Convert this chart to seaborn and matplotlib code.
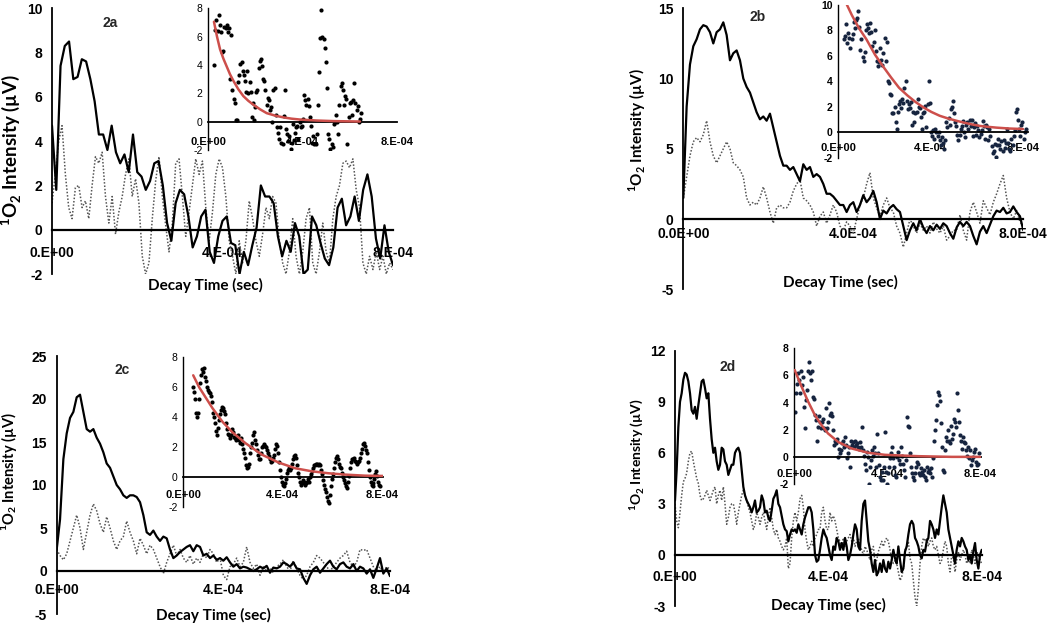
import numpy as np
import matplotlib
matplotlib.use("Agg")
import matplotlib.pyplot as plt
import seaborn as sns

sns.set_theme(style="white")
plt.rcParams["font.family"] = ["Liberation Sans", "DejaVu Sans"]
plt.rcParams["mathtext.fontset"] = "custom"
plt.rcParams["mathtext.bf"] = "Lato:bold"
plt.rcParams["mathtext.rm"] = "Lato"
plt.rcParams["axes.unicode_minus"] = False

# ---------------- data (time in microseconds, intensity in µV) ----------------
a_solid = [4.7, 1.8, 7.4, 8.3, 8.5, 6.8, 6.9, 7.7, 7.6, 6.8,
           5.8, 4.3, 4.3, 3.6, 4.7, 3.5, 3.0, 3.4, 2.6, 4.3,
           2.6, 2.4, 1.8, 2.2, 3.0, 3.1, 2.0, 0.3, -0.5, 1.2,
           1.8, 1.6, 0.6, -0.8, -0.3, 0.6, 0.9, -1.0, -1.5, -0.3,
           0.4, 0.6, -0.6, -0.7, -2.0, -1.0, -1.6, -0.7, 0.1, 2.0,
           1.5, 1.5, 1.2, -0.3, -1.2, -0.5, -1.0, 0.3, -0.3, -2.0,
           -1.8, 0.6, 0.2, -0.6, -1.3, -1.6, -0.8, 1.0, 1.4, 0.2,
           0.6, 1.5, 0.4, 1.8, 2.5, 1.5, -0.4, -1.3, 0.2, -1.0, -1.6]
a_dotted = [1.2, 2.5, 4.0, 4.7, 2.5, 1.0, 0.5, 1.9, 2.0, 1.0, 1.3, 0.5, 2.0, 3.3, 3.0,
            3.5, 1.5, 0.3, 1.5, -0.2, 0.8, 1.5, 2.5, 3.2, 1.5, 2.3, 1.2, -1.2, -2.0, -1.5,
            0.5, 2.2, 3.3, 1.5, 0.2, -1.0, 0.3, 3.0, 3.2, 1.5, -0.3, 0.8, 2.0, 3.2, 2.5,
            3.1, 1.0, -0.5, 0.8, 2.5, 3.2, 2.8, 1.5, -0.5, -1.2, -2.0, -0.5, -1.5, -0.5, 1.3,
            0.5, -0.5, -1.2, -0.2, 1.0, 0.5, 1.5, 1.2, -0.5, -1.5, -2.0, -1.0, 0.5, -1.2, -2.0,
            -1.0, 0.5, 1.0, -1.5, -2.0, -1.0, 0.3, -1.0, -1.5, 0.5, 1.5, 2.0, 3.0, 3.1, 2.8,
            3.2, 1.8, 1.0, -1.5, -2.0, -1.2, -1.8, -1.0, -1.8, -1.2, -2.0, -1.5, -1.8]
a_inset = [4.0, 6.5, 7.2, 6.4, 7.5, 6.8, 6.3, 4.9, 5.0, 6.7, 6.6, 6.8, 6.3, 6.6, 3.0, 6.1,
           2.2, 1.6, 1.3, 0.15, 0.1, 2.8, 3.3, 4.1, 4.2, 3.6, 3.3, 2.9, 2.1, 3.6, 2.0, 2.8,
           2.1, 0.3, 1.3, 0.1, 1.0, 2.1, 2.2, 3.8, 4.3, 4.4, 3.9, 3.0, 2.9, 2.2, 1.2, 1.7,
           1.5, 0.8, 1.0, 0.0, 2.2, 2.4, 0.5, -0.4, -0.8, -1.2, -0.4, -1.5, -1.6, 0.4, 2.2,
           -0.5, -0.9, -1.4, -1.0, -1.9, -1.5, -0.2, -1.3, -0.8, -0.4, -0.3, -1.2, 0.0, -0.4,
           -0.3, 0.2, 1.9, 1.5, 1.2, 1.6, 1.1, 0.3, -0.3, -1.5, -1.0, -1.6, -1.6, -0.9, 1.2,
           3.5, 5.9, 7.9, 6.0, 5.8, 5.2, 4.2, 2.4, -0.9, -1.2, -1.9, -1.6, -1.8, -0.2, 0.0,
           0.5, 0.0, -0.9, 1.2, 2.5, 2.7, 2.2, 1.2, 1.8, 1.6, -1.6, 0.3, 1.3, 1.4, 0.5, 1.5,
           2.7, 1.3, 0.8, 1.1, 0.0, 0.2, 0.6]
a_inset_t = [25, 649]
a_fit_t = [24, 37, 50, 64, 78, 92, 106, 127, 149, 170, 191, 220, 248, 283, 319, 354, 389, 460, 531, 644]
a_fit_v = [7.05, 6.0, 5.1, 4.45, 3.9, 3.35, 2.9, 2.3, 1.8, 1.47, 1.2, 0.87, 0.6, 0.43, 0.3, 0.21, 0.15, 0.08, 0.04, 0.01]

b_solid = [1.5, 8.0, 11.0, 12.3, 12.8, 13.5, 13.8, 13.7, 13.3, 12.5,
           13.3, 13.5, 14.0, 13.1, 11.3, 11.8, 12.0, 11.3, 10.0, 9.4,
           9.0, 8.3, 7.6, 7.1, 7.3, 7.0, 7.5, 6.5, 5.5, 4.5,
           3.8, 3.8, 3.5, 3.7, 3.2, 2.7, 3.9, 3.5, 3.7, 3.0,
           3.2, 3.0, 2.5, 1.8, 1.8, 1.6, 1.3, 1.0, 1.0, 0.5,
           1.0, 1.2, 0.5, 1.0, 1.7, 1.2, 1.5, 2.0, 1.2, 0.0,
           0.6, 0.4, 0.8, 1.0, 0.7, 0.5, -0.5, -1.5, -0.8, -0.3,
           -0.8, 0.0, -0.6, -1.0, -0.5, -0.8, -0.4, -0.7, -0.3, -0.5,
           -1.0, -1.4, -0.6, -0.2, -0.5, -0.2, -0.5, -1.2, -1.8, -0.9,
           -0.5, -1.0, -0.4, 0.2, 0.6, 0.5, 0.8, 0.4, 0.5, 0.9,
           0.5, 0.2, -0.8]
b_dotted = [1.5, 3.0, 4.5, 5.5, 5.8, 5.5, 6.0, 7.0, 5.5, 4.5,
            4.0, 4.5, 5.0, 5.5, 5.0, 4.0, 3.8, 3.5, 3.0, 1.5,
            1.0, 1.2, 1.0, 1.5, 2.3, 1.5, 0.5, -0.3, 0.8, 1.0,
            0.8, 0.8, 1.2, 2.0, 2.5, 2.8, 1.5, 1.3, 1.0, 0.5,
            -0.5, 0.2, 0.5, -0.3, 0.3, 1.0, 0.5, -0.5, -0.8, -0.2,
            -0.5, -1.0, 0.0, 1.0, 1.5, 2.5, 3.3, 1.5, 0.8, 0.2,
            1.0, 1.5, 0.8, 0.5, -0.5, -1.0, -2.0, -1.0, 0.0, -0.5,
            -1.0, -0.3, -0.8, -0.5, -1.0, -0.2, -0.7, -1.0, -0.5, -1.5,
            -1.2, -0.8, -0.8, 0.3, -0.8, -1.5, 0.5, 1.2, 0.5, -0.3,
            1.3, 0.8, 0.3, 1.2, 1.8, 2.5, 3.1, 1.5, 0.5, 0.0,
            0.6, -0.2, -0.5]
b_inset = [7.3, 7.6, 8.5, 7.0, 7.8, 7.4, 6.6, 7.3, 7.7, 8.7, 8.2, 8.8, 9.0, 9.5, 8.3, 6.5,
           7.3, 5.9, 5.6, 6.3, 8.0, 8.5, 8.2, 7.8, 8.6, 7.9, 6.8, 7.1, 8.0, 6.4, 5.6, 5.2,
           5.5, 6.6, 5.7, 5.3, 6.2, 7.4, 5.6, 7.1, 4.0, 3.9, 3.0, 2.9, 1.5, 1.5, 2.0, 0.8,
           0.3, 1.6, 2.2, 2.5, 1.9, 2.6, 2.3, 3.5, 4.0, 2.5, 1.8, 2.2, 1.9, 2.4, 0.6, 1.6,
           0.8, 1.5, 1.6, 2.6, 2.0, 1.9, 1.2, 0.3, 1.5, 1.6, 2.1, 0.4, 2.2, 4.0, 2.3, 0.0,
           -0.3, 0.2, -0.5, 0.3, 0.0, -0.3, 0.0, -0.6, -1.0, -0.4, -0.8, -1.3, -0.6, 0.8,
           0.4, 1.1, 0.6, 1.8, 2.0, 2.5, 1.5, 0.8, 0.5, -0.2, -0.6, -0.2, 0.3, 0.5, 0.9,
           0.0, -0.4, 0.6, 0.8, 0.3, 1.0, 0.5, 1.0, -0.3, 0.4, 0.7, -0.2, 0.5, 0.2, -0.4,
           -0.1, 0.2, 0.9, 0.5, -0.5, 0.6, 0.4, -0.6, 0.3, -0.3, -1.1, -1.6, -1.5, -0.9,
           -1.9, -1.0, -0.5, -1.0, -1.3, -0.7, -1.5, -0.6, -1.2, -0.8, 0.3, -0.8, -1.3,
           -1.5, -0.5, -1.0, -0.3, 0.2, 1.6, 1.8, 1.0, 0.3, -0.3, 0.6, 0.8, -0.5, 0.0, 0.3]
b_inset_t = [25, 812]
b_fit_t = [30, 39, 60, 90, 123, 160, 194, 230, 264, 300, 334, 370, 404, 440, 474, 510, 545, 580, 615, 650, 685, 740, 800]
b_fit_v = [10.4, 10.0, 9.2, 8.2, 7.3, 6.1, 5.2, 4.3, 3.5, 2.9, 2.4, 1.95, 1.6, 1.3, 1.1, 0.92, 0.76, 0.62, 0.5, 0.43, 0.37, 0.3, 0.26]

c_solid = [2.5, 6.0, 13.0, 16.0, 17.8, 18.5, 20.2, 20.5, 18.5, 16.5,
           16.2, 16.5, 15.5, 14.8, 13.8, 12.5, 12.0, 11.0, 10.0, 9.5,
           8.8, 8.5, 8.8, 8.8, 8.6, 8.0, 6.5, 4.5, 4.2, 4.7,
           4.0, 3.5, 4.0, 3.8, 2.5, 1.5, 1.8, 2.2, 2.5, 2.8,
           3.0, 2.3, 3.0, 2.8, 1.8, 2.0, 1.5, 1.8, 1.3, 1.5,
           1.2, 1.6, 1.0, 0.5, 0.8, 0.3, 0.5, 0.4, 0.2, 0.0,
           0.2, 0.5, 0.3, 0.6, -0.2, 0.4, 0.3, 0.5, 1.0, 0.8,
           0.5, 1.0, 0.3, 0.2, -0.8, -1.5, -0.5, 0.2, 0.5, -0.2,
           0.3, 0.8, 1.2, 0.5, 0.2, 0.8, 1.0, 0.5, 0.3, 0.8,
           0.0, 0.5, 0.3, -0.3, 0.2, -0.8, 0.3, 1.5, -0.3, 0.3, -0.6]
c_dotted = [2.5, 1.8, 1.3, 2.0, 3.5, 5.0, 6.5, 5.0, 2.5, 4.5,
            6.5, 7.8, 7.0, 5.5, 4.5, 6.3, 5.0, 3.5, 2.5, 3.5,
            4.0, 5.8, 4.5, 3.5, 2.0, 3.8, 3.0, 2.0, 3.0, 2.5,
            1.5, 0.5, -0.3, 1.0, 2.0, 3.0, 1.8, 2.5, 1.5, 1.0,
            1.8, 0.8, 1.5, 1.0, 2.0, 1.5, 2.5, 2.0, 1.0, 1.5,
            -0.5, -1.0, 0.5, 0.8, 1.5, 0.5, 1.0, 2.8, 1.0, 0.3,
            0.8, -0.5, 0.5, 0.0, 0.3, -0.2, 0.5, 0.8, 1.3, 0.5,
            0.0, 1.2, 0.3, -0.5, -1.0, -0.5, 0.5, 1.0, 1.8, 1.5,
            1.0, 0.5, 0.0, 0.5, 1.0, 1.5, 1.8, 2.3, 1.0, 0.5,
            1.0, 2.5, 2.4, 2.5, 1.5, 0.5, 0.0, 0.5, -0.2, 0.5, 0.2]
c_inset = [6.0, 5.7, 5.2, 4.3, 4.0, 4.3, 5.2, 6.3, 6.8, 7.2, 7.0, 7.3, 6.7, 6.4, 6.0, 5.8,
           5.7, 5.6, 5.4, 5.0, 4.3, 4.0, 3.6, 3.1, 2.8, 3.3, 3.8, 4.2, 4.5, 4.7, 4.6, 4.4,
           4.2, 3.6, 3.2, 2.9, 2.8, 2.6, 2.8, 3.2, 3.0, 2.7, 2.6, 2.5, 2.6, 2.8, 2.5, 2.3,
           2.6, 2.2, 1.9, 1.6, 1.3, 0.8, 0.6, 0.7, 0.9, 1.6, 2.0, 2.3, 2.8, 3.0, 2.5, 2.2,
           1.8, 1.5, 1.2, 1.2, 1.6, 2.0, 2.1, 2.2, 2.1, 2.0, 1.8, 1.6, 1.4, 1.2, 1.0, 1.1,
           1.3, 1.5, 1.9, 2.2, 2.1, 1.6, 1.0, 0.5, 0.0, -0.3, -0.5, -0.6, -0.4, -0.1, 0.3,
           0.5, 0.6, 0.5, 0.6, 0.9, 1.2, 1.4, 1.5, 1.3, 0.8, 0.3, 0.0, -0.3, -0.5, -0.4,
           -0.2, -0.3, -0.5, -0.4, -0.3, -0.1, -0.3, 0.0, 0.2, 0.4, 0.6, 0.8, 0.8, 0.9, 0.9,
           0.8, 0.9, 0.8, 0.5, 0.2, -0.2, -0.5, -0.8, -1.0, -1.3, -1.6, -1.7, -1.2, -0.6,
           -0.1, 0.2, 0.6, 1.0, 1.3, 1.4, 1.2, 0.9, 0.7, 0.6, 0.3, 0.0, -0.2, -0.4, -0.6,
           -0.7, -0.3, 0.1, 0.6, 1.0, 1.2, 1.2, 1.3, 1.1, 1.0, 0.9, 1.0, 1.1, 1.3, 1.6, 1.9,
           2.2, 2.3, 2.1, 1.8, 1.6, 1.0, 0.5, 0.0, -0.3, -0.5, -0.6, -0.4, -0.1, 0.2, 0.4,
           0.1, -0.3, -0.5, -0.6]
c_inset_t = [40, 795]
c_fit_t = [40, 64, 91, 118, 158, 198, 251, 318, 385, 452, 518, 585, 652, 732, 806]
c_fit_v = [6.8, 6.0, 5.3, 4.6, 3.7, 3.0, 2.27, 1.5, 0.98, 0.6, 0.4, 0.27, 0.18, 0.11, 0.09]

d_solid = [3.2, 5.0, 7.5, 9.0, 9.5, 10.3, 10.7, 10.6, 10.2, 9.5,
           8.5, 8.3, 8.7, 8.0, 8.8, 9.5, 10.2, 10.3, 9.8, 9.2,
           9.5, 8.0, 6.8, 6.0, 6.3, 5.5, 5.0, 5.3, 6.3, 6.2,
           5.5, 5.3, 4.7, 5.0, 5.3, 5.3, 6.0, 6.2, 6.3, 6.0,
           5.0, 4.0, 3.5, 3.2, 3.0, 2.8, 2.5, 2.8, 3.2, 2.5,
           2.6, 2.8, 3.5, 3.2, 2.5, 2.6, 2.2, 2.0, 2.6, 3.3,
           3.5, 3.8, 3.0, 2.8, 2.3, 1.8, 1.5, 1.4, 0.8, 1.2,
           1.5, 1.4, 1.5, 1.3, 1.8, 1.5, 1.2, 1.8, 2.2, 2.5,
           2.8, 2.8, 2.5, 1.5, 0.0, -0.4, -0.3, 0.3, 1.0, 1.5,
           1.2, 1.0, 0.5, 0.0, -0.3, 0.5, 0.3, 1.0, 0.8, 0.3,
           0.7, 0.3, 1.0, 0.5, -0.3, 0.0, 0.5, 1.2, 1.8, 1.5,
           0.5, 0.3, 2.0, 3.0, 3.2, 2.0, 0.8, 0.3, -0.5, -1.0,
           -0.3, -1.2, -1.0, -0.5, -1.0, -0.3, -0.8, -1.0, -0.4, -0.8,
           -0.3, 0.3, -0.2, -0.5, 0.5, -0.3, -1.0, -0.8, 0.2, 0.5,
           1.2, 1.8, 2.0, 1.8, 1.0, 0.8, 0.5, 0.0, -0.2, 0.3,
           0.2, 0.8, 1.0, 2.0, 1.8, 1.5, 1.0, 1.5, 1.2, 2.0,
           2.8, 3.5, 3.0, 2.5, 1.5, 1.0, 0.5, 0.0, -0.5, 0.3,
           0.8, 0.5, 1.0, 0.8, 0.5, 0.3, -0.3, 0.0, -0.5, 0.2,
           0.7, -0.3, -0.8, 0.0, 0.3]
d_dotted = [3.0, 2.0, 1.6, 2.5, 3.5, 4.3, 4.5, 4.8, 5.5, 6.0,
            6.1, 5.5, 5.0, 4.5, 4.2, 3.5, 3.2, 3.3, 3.5, 3.8,
            3.5, 3.2, 3.5, 3.8, 4.0, 3.0, 3.5, 3.8, 3.2, 4.0,
            3.0, 1.8, 2.2, 2.8, 3.0, 3.0, 2.5, 1.8, 2.5, 3.0,
            3.5, 3.8, 3.5, 3.2, 2.8, 2.5, 2.0, 1.5, 1.8, 2.5,
            2.2, 1.8, 2.2, 2.5, 2.0, 1.5, 2.2, 2.8, 2.2, 1.5,
            1.2, 1.5, 1.0, 0.8, 0.5, 0.3, 0.5, 1.0, -0.8, -0.5,
            1.0, 2.0, 2.5, 2.0, 2.5, 3.3, 3.5, 2.8, 1.5, 0.8,
            0.3, 0.5, 0.8, 0.5, 1.0, 1.2, 1.5, 1.5, 2.5, 2.8,
            2.0, 1.5, 1.5, 2.5, 2.0, 2.3, 2.0, 1.5, 1.0, 0.8,
            0.5, 1.0, 0.5, 0.8, 1.0, 1.2, 0.8, 1.0, 0.5, 0.8,
            1.0, 0.5, 0.3, 0.0, 0.5, 0.3, 0.0, -0.3, 0.3, 0.5,
            -0.5, -0.3, 0.2, 0.5, 0.8, 0.5, 0.8, 1.0, 0.8, 0.3,
            -0.3, -0.5, -0.3, -0.5, -1.0, -1.5, -1.3, -0.8, 0.3, 0.5,
            0.8, -0.2, -0.5, -1.5, -2.5, -3.0, -2.0, -0.5, 0.5, 1.0,
            0.8, 1.0, 0.5, 0.8, 1.0, 0.5, 0.3, 0.5, 0.0, -0.5,
            -0.3, 0.3, 0.8, 0.5, -0.5, -1.0, 0.0, -0.2, -1.0, -0.3,
            0.2, -0.3, 0.0, 0.3, 0.0, -0.5, -0.3, -0.5, 0.3, 0.0,
            -0.5, 0.2, 0.0, -0.3, -0.5]
d_inset = [3.3, 4.7, 5.4, 6.2, 5.7, 4.7, 6.3, 5.3, 5.9, 3.7, 2.1, 4.2, 4.9, 6.3, 7.0, 6.2,
           5.7, 6.3, 4.4, 4.3, 3.1, 2.7, 1.2, 2.2, 3.0, 2.6, 2.1, 2.6, 2.8, 2.1, 2.0, 3.6,
           2.1, 2.6, 4.0, 3.1, 3.2, 3.0, 2.0, 0.9, 1.2, 1.0, 1.35, 0.0, 0.6, 0.25, 0.5, 1.0,
           1.2, 0.75, 1.5, 0.85, -0.1, 0.25, 0.75, -0.75, 1.2, 0.85, 1.1, 0.75, 1.2, 0.85,
           1.0, 0.75, 0.6, 1.1, 0.75, 2.2, 0.5, 0.1, -0.5, -1.0, 0.35, 0.0, -2.0, -0.75,
           -0.25, 0.5, 0.1, 0.75, 0.25, -0.75, 1.7, 0.25, -0.6, -1.5, -1.7, -1.1, -1.7,
           -0.75, 1.85, -1.1, -2.0, -1.2, -0.75, -0.1, 0.25, 0.75, -0.1, -0.75, -1.35, -1.5,
           0.0, 0.35, -0.25, -0.5, 0.75, 0.1, -0.5, -1.0, -1.5, -0.25, 2.95, 2.3, 2.2, 0.25,
           -0.75, -1.2, -1.5, -1.7, -1.2, -0.75, -0.4, -0.5, -1.2, -1.35, -0.85, -1.1, -1.35,
           -1.0, -1.5, -1.7, -0.75, -1.1, -1.0, -1.2, -0.85, -1.5, -0.1, 1.2, 2.0, 2.7, 3.8,
           4.8, 4.55, 4.1, 2.5, 0.75, -1.0, -1.1, 0.5, 1.5, 1.2, 2.0, 1.2, 1.0, 2.3, 1.35,
           1.7, 2.8, 2.6, 2.2, 4.7, 3.45, 2.6, 1.6, 1.2, 0.6, 1.5, 1.1, 1.0, 0.5, 0.1, 0.75,
           -0.1, 0.5, -0.6, -0.25, 0.0, 0.35, 0.6, -0.4, -0.6, -0.5, 0.25]
d_inset_t = [3, 796]
d_fit_t = [3, 32, 60, 89, 118, 146, 190, 247, 319, 391, 534, 678, 800]
d_fit_v = [6.4, 5.2, 4.1, 3.1, 2.35, 1.73, 1.1, 0.62, 0.3, 0.15, 0.05, 0.0, 0.0]

# ---------------- layout helpers ----------------
W, H = 1050, 627
US = 1e-6


def rect(l, t, r, b):
    return [l / W, 1 - b / H, (r - l) / W, (b - t) / H]


fig = plt.figure(figsize=(10.5, 6.27), dpi=100)
fig.patch.set_facecolor("white")


def style_axes(ax, xmax, ylim, yticks, xlabels, xsize, ysize, xpad, yweight,
               ypad, spine_w, zero_w):
    ax.set_xlim(0, xmax)
    ax.set_ylim(*ylim)
    ax.patch.set_visible(False)
    ax.grid(False)
    for s in ("top", "right"):
        ax.spines[s].set_visible(False)
    ax.spines["bottom"].set_position(("data", 0))
    ax.spines["bottom"].set_linewidth(zero_w)
    ax.spines["left"].set_linewidth(spine_w)
    ax.spines["bottom"].set_color("black")
    ax.spines["left"].set_color("black")
    ax.set_xticks([0, 4e-4, 8e-4])
    ax.set_xticklabels(xlabels, fontsize=xsize, fontweight="bold")
    ax.set_yticks(yticks)
    ax.set_yticklabels([str(v) for v in yticks], fontsize=ysize, fontweight=yweight)
    ax.tick_params(axis="x", length=0, pad=xpad, colors="black")
    ax.tick_params(axis="y", direction="in", length=4, width=spine_w,
                   pad=ypad, colors="black")
    ax.set_xlabel("")
    ax.set_ylabel("")


def main_panel(r, solid, dotted, ylim, yticks, xlabels, xpad):
    ax = fig.add_axes(r)
    xd = np.linspace(0, 800, len(dotted)) * US
    xs = np.linspace(0, 800, len(solid)) * US
    sns.lineplot(x=xd, y=dotted, ax=ax, color="#555555", linewidth=1.1,
                 linestyle=(0, (1, 1.2)), errorbar=None, sort=False)
    sns.lineplot(x=xs, y=solid, ax=ax, color="black", linewidth=1.6,
                 errorbar=None, sort=False)
    style_axes(ax, 8e-4, ylim, yticks, xlabels, 10, 10, xpad, "bold", 7, 1.3, 1.6)
    return ax


def inset_panel(r, vals, trange, fit_t, fit_v, xmax, ylim, yticks, color,
                xpad, yweight):
    ax = fig.add_axes(r)
    xt = np.linspace(trange[0], trange[1], len(vals)) * US
    sns.scatterplot(x=xt, y=vals, ax=ax, color=color, s=9, linewidth=0,
                    edgecolor=None, zorder=2)
    sns.lineplot(x=np.array(fit_t) * US, y=fit_v, ax=ax, color="#cd4f4b",
                 linewidth=1.8, errorbar=None, sort=False, zorder=3)
    style_axes(ax, xmax, ylim, yticks, ["0.E+00", "4.E-04", "8.E-04"], 8, 7.5,
               xpad, yweight, 4, 1.0, 1.3)
    return ax


# ---- 2a ----
main_panel(rect(52, 8.3, 393, 274), a_solid, a_dotted, (-2, 10),
           [10, 8, 6, 4, 2, 0, -2], ["0.E+00", "4.E-04", "8.E-04"], 12)
inset_panel(rect(208.3, 8.3, 396.7, 150), a_inset, a_inset_t, a_fit_t, a_fit_v,
            8e-4, (-2, 8), [8, 6, 4, 2, 0, -2], "black", 11, "normal")

# ---- 2b ----
main_panel(rect(683.3, 8.3, 1023.3, 289.3), b_solid, b_dotted, (-5, 15),
           [15, 10, 5, 0, -5], ["0.0E+00", "4.0E-04", "8.0E-04"], 6)
inset_panel(rect(838, 5, 1027.6, 157.8), b_inset, b_inset_t, b_fit_t, b_fit_v,
            8.2e-4, (-2, 10), [10, 8, 6, 4, 2, 0, -2], "#16243f", 8, "bold")

# ---- 2c ----
main_panel(rect(56.7, 356, 390, 614), c_solid, c_dotted, (-5, 25),
           [25, 20, 15, 10, 5, 0, -5], ["0.E+00", "4.E-04", "8.E-04"], 9)
inset_panel(rect(183.3, 357.3, 383.2, 507.3), c_inset, c_inset_t, c_fit_t, c_fit_v,
            8.06e-4, (-2, 8), [8, 6, 4, 2, 0, -2], "black", 9, "normal")

# ---- 2d ----
main_panel(rect(675, 350.7, 981.7, 606), d_solid, d_dotted, (-3, 12),
           [12, 9, 6, 3, 0, -3], ["0.E+00", "4.E-04", "8.E-04"], 11)
inset_panel(rect(794, 348.3, 981.2, 484), d_inset, d_inset_t, d_fit_t, d_fit_v,
            8.05e-4, (-2, 8), [8, 6, 4, 2, 0, -2], "#16243f", 9, "bold")

# ---- texts ----
def ftext(x, y, s, **kw):
    fig.text(x / W, 1 - y / H, s, ha="center", va="center", **kw)


ylab = r"$^{\mathbf{1}}\mathbf{O}_{\mathbf{2}}$ Intensity (µV)"
title_kw = dict(fontweight="bold", family=["Lato", "DejaVu Sans"], color="black")

ftext(110, 23, "2a", fontsize=10, fontweight="bold")
ftext(758, 17, "2b", fontsize=10, fontweight="bold")
ftext(122, 370, "2c", fontsize=10, fontweight="bold")
ftext(728, 367, "2d", fontsize=10, fontweight="bold")

ftext(205, 285, "Decay Time (sec)", fontsize=11, **title_kw)
ftext(840, 282, "Decay Time (sec)", fontsize=11, **title_kw)
ftext(213, 615, "Decay Time (sec)", fontsize=11, **title_kw)
ftext(828, 605, "Decay Time (sec)", fontsize=11, **title_kw)

ftext(11, 150, ylab, fontsize=13.5, rotation=90, **title_kw)
ftext(637, 130, ylab, fontsize=11, rotation=90, **title_kw)
ftext(9, 472, ylab, fontsize=10.5, rotation=90, **title_kw)
ftext(637, 455, ylab, fontsize=10, rotation=90, **title_kw)

fig.savefig("out.png", dpi=100)
